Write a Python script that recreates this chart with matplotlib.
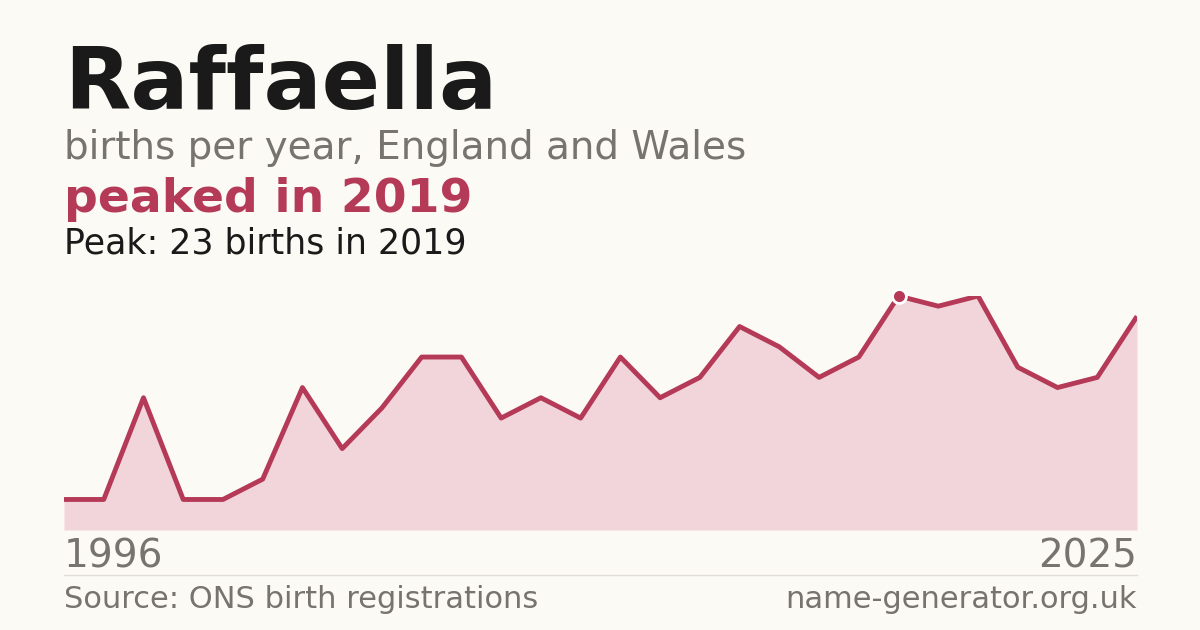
import matplotlib
matplotlib.use("Agg")
import matplotlib.pyplot as plt

# births per year (years with no published count are absent)
years = [1996, 1997, 1998, 1999, 2000, 2003, 2004, 2005, 2006, 2007, 2008, 2009,
         2010, 2011, 2012, 2013, 2014, 2015, 2016, 2017, 2018, 2019, 2020, 2021,
         2022, 2023, 2024, 2025]
births = [3, 3, 13, 3, 3, 5, 14, 8, 12, 17, 17, 11, 13, 11, 17, 13, 15, 20, 18,
          15, 17, 23, 22, 23, 16, 14, 15, 21]

bg = "#fbfaf5"
accent = "#b43a58"
grey = "#77736e"

fig = plt.figure(figsize=(12, 6.3), dpi=100, facecolor=bg)
ax = fig.add_axes([64 / 1200, 100 / 630, 1073 / 1200, 234 / 630])
ax.set_facecolor(bg)

xs = list(range(len(years)))
ax.fill_between(xs, births, 0, color="#f2d5da", lw=0)
ax.plot(xs, births, color=accent, lw=3.5, solid_capstyle="butt")
pk = births.index(max(births))
ax.plot(xs[pk], births[pk], "o", ms=10, color=accent, mec="white", mew=2, clip_on=False)
ax.set_xlim(0, len(years) - 1)
ax.set_ylim(0, max(births))
ax.axis("off")

fig.text(64 / 1200, 1 - 85 / 630, "Raffaella", fontsize=62, fontweight="bold",
         color="#1a1a1a", va="center")
fig.text(64 / 1200, 1 - 148 / 630, "births per year, England and Wales", fontsize=28,
         color=grey, va="center")
fig.text(64 / 1200, 1 - 199 / 630, f"peaked in {years[pk]}", fontsize=34,
         fontweight="bold", color=accent, va="center")
fig.text(64 / 1200, 1 - 243 / 630, f"Peak: {births[pk]} births in {years[pk]}",
         fontsize=25, color="#1a1a1a", va="center")
fig.text(64 / 1200, 1 - 556 / 630, str(years[0]), fontsize=28, color=grey, va="center")
fig.text(1137 / 1200, 1 - 556 / 630, str(years[-1]), fontsize=28, color=grey,
         va="center", ha="right")
fig.add_artist(plt.Line2D([64 / 1200, 1137 / 1200], [1 - 575 / 630] * 2,
                          color="#e0ddd6", lw=1))
fig.text(64 / 1200, 1 - 600 / 630, "Source: ONS birth registrations", fontsize=22,
         color=grey, va="center")
fig.text(1137 / 1200, 1 - 600 / 630, "name-generator.org.uk", fontsize=22,
         color=grey, va="center", ha="right")

fig.savefig("out.png", facecolor=bg)
